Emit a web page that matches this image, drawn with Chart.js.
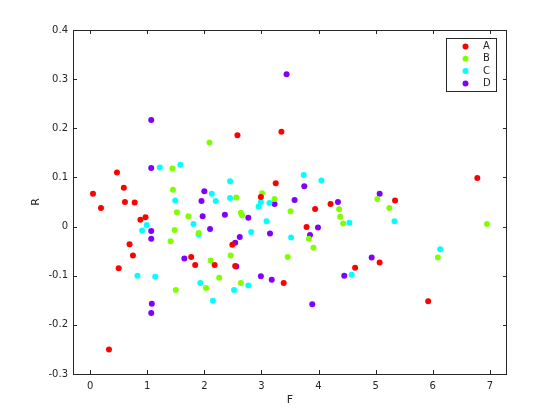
<!DOCTYPE html>
<html>
<head>
<meta charset="utf-8">
<script src="https://cdn.jsdelivr.net/npm/chart.js@4"></script>
<style>
  html, body { margin: 0; padding: 0; background: #fff; }
</style>
</head>
<body>
<canvas id="chart" width="560" height="420"></canvas>
<script>
// scatter of R against F, four groups

const groupNames = ['A', 'B', 'C', 'D'];
const groupColors = ['#ff0000', '#80ff00', '#00ffff', '#8000ff'];

const aF = [2.58, 3.35, 0.47, 0.05, 0.59, 0.19, 0.61, 0.78, 0.97, 0.88, 0.69, 0.75, 1.77, 1.84, 2.18,
            0.50, 3.25, 2.99, 3.94, 4.21, 3.79, 2.49, 2.54, 4.64, 6.78, 5.34, 5.07, 3.39, 0.33, 5.92];
const aR = [0.186, 0.193, 0.110, 0.067, 0.079, 0.038, 0.050, 0.049, 0.019, 0.014, -0.036, -0.059, -0.062, -0.078, -0.078,
            -0.085, 0.088, 0.060, 0.036, 0.046, -0.001, -0.037, -0.080, -0.084, 0.099, 0.053, -0.073, -0.115, -0.250, -0.152];

const bF = [2.09, 1.44, 1.45, 1.52, 1.72, 1.48, 1.90, 1.41, 2.11, 2.56, 3.01, 3.23, 4.36, 3.51, 4.38,
            4.43, 2.64, 2.66, 3.83, 3.91, 2.46, 3.46, 5.03, 5.24, 6.95, 6.09, 2.26, 1.50, 2.03, 2.64];
const bR = [0.171, 0.118, 0.075, 0.029, 0.021, -0.007, -0.013, -0.030, -0.069, 0.059, 0.068, 0.056, 0.035, 0.031, 0.020,
            0.006, 0.028, 0.023, -0.025, -0.043, -0.059, -0.062, 0.056, 0.038, 0.005, -0.063, -0.104, -0.129, -0.125, -0.115];

const cF = [1.22, 1.58, 2.13, 1.49, 2.20, 0.99, 1.81, 0.91, 1.90, 3.74, 4.05, 2.45, 2.45, 2.99, 2.95,
            3.14, 4.54, 3.09, 2.82, 3.52, 5.33, 6.13, 0.83, 1.14, 1.93, 2.15, 2.77, 2.52, 4.58];
const cR = [0.120, 0.126, 0.067, 0.053, 0.052, 0.003, 0.005, -0.008, -0.016, 0.105, 0.094, 0.092, 0.058, 0.050, 0.041,
            0.048, 0.008, 0.011, -0.011, -0.022, 0.011, -0.046, -0.100, -0.102, -0.115, -0.151, -0.120, -0.129, -0.098];

const dF = [1.07, 3.44, 1.07, 2.00, 1.95, 1.97, 1.07, 2.10, 1.07, 1.65, 3.75, 3.23, 3.58, 4.34, 2.36,
            2.77, 3.99, 3.15, 3.85, 2.62, 2.54, 2.56, 5.07, 4.93, 1.08, 1.07, 2.99, 3.18, 3.89, 4.45];
const dR = [0.217, 0.310, 0.119, 0.072, 0.052, 0.021, -0.009, -0.005, -0.025, -0.065, 0.082, 0.046, 0.054, 0.050, 0.024,
            0.018, -0.002, -0.014, -0.017, -0.021, -0.033, -0.081, 0.067, -0.063, -0.157, -0.176, -0.101, -0.108, -0.158, -0.100];

const xTicks = [0, 1, 2, 3, 4, 5, 6, 7];
const yTicks = [-0.3, -0.2, -0.1, 0, 0.1, 0.2, 0.3, 0.4];

const axisColor = '#262626';
const fontFamily = '"DejaVu Sans", sans-serif';
const dotRadius = 3;

function pairs(xs, ys) {
  return xs.map((x, i) => ({ x: x, y: ys[i] }));
}

const allF = [aF, bF, cF, dF];
const allR = [aR, bR, cR, dR];

const datasets = groupNames.map((name, i) => ({
  label: name,
  data: pairs(allF[i], allR[i]),
  backgroundColor: groupColors[i],
  borderWidth: 0,
  pointRadius: dotRadius,
  pointHoverRadius: dotRadius
}));

// box round the axes, inward ticks on all four sides, and the legend
const matlabAxes = {
  id: 'matlabAxes',
  afterDraw(chart) {
    const { ctx, chartArea: a, scales } = chart;
    ctx.save();
    ctx.strokeStyle = axisColor;
    ctx.lineWidth = 1;
    ctx.strokeRect(Math.round(a.left) + 0.5, Math.round(a.top) + 0.5,
                   Math.round(a.right - a.left) - 1, Math.round(a.bottom - a.top));
    const len = 4;
    ctx.beginPath();
    xTicks.forEach(v => {
      const px = Math.round(scales.x.getPixelForValue(v)) + 0.5;
      ctx.moveTo(px, a.bottom); ctx.lineTo(px, a.bottom - len);
      ctx.moveTo(px, a.top); ctx.lineTo(px, a.top + len);
    });
    yTicks.forEach(v => {
      const py = Math.round(scales.y.getPixelForValue(v)) + 0.5;
      ctx.moveTo(a.left, py); ctx.lineTo(a.left + len, py);
      ctx.moveTo(a.right, py); ctx.lineTo(a.right - len, py);
    });
    ctx.stroke();

    // legend
    const lx = 446.5, ly = 38.5, lw = 50, lh = 53;
    ctx.fillStyle = '#fff';
    ctx.fillRect(lx, ly, lw, lh);
    ctx.strokeRect(lx, ly, lw, lh);
    ctx.font = '10px ' + fontFamily;
    ctx.textBaseline = 'middle';
    ctx.textAlign = 'left';
    chart.data.datasets.forEach((ds, i) => {
      const y = 46.5 + i * 12.3;
      ctx.fillStyle = ds.backgroundColor;
      ctx.beginPath();
      ctx.arc(465.5, y, dotRadius, 0, Math.PI * 2);
      ctx.fill();
      ctx.fillStyle = axisColor;
      ctx.fillText(ds.label, 483, y);
    });
    ctx.restore();
  }
};

new Chart(document.getElementById('chart'), {
  type: 'scatter',
  data: { datasets: datasets },
  options: {
    responsive: false,
    animation: false,
    layout: { padding: { left: 0, top: 30, right: 53, bottom: 0 } },
    plugins: {
      legend: { display: false },
      tooltip: { enabled: false }
    },
    scales: {
      x: {
        type: 'linear',
        min: -0.3,
        max: 7.3,
        afterBuildTicks: s => { s.ticks = xTicks.map(v => ({ value: v })); },
        afterFit: s => { s.height = 46; },
        grid: { display: false, drawTicks: false },
        border: { display: false },
        ticks: {
          padding: 6,
          color: axisColor,
          font: { family: fontFamily, size: 10 },
          callback: v => String(v)
        },
        title: {
          display: true,
          text: 'F',
          color: axisColor,
          font: { family: fontFamily, size: 11 },
          padding: { top: 0, bottom: 13 }
        }
      },
      y: {
        type: 'linear',
        min: -0.3,
        max: 0.4,
        afterBuildTicks: s => { s.ticks = yTicks.map(v => ({ value: v })); },
        afterFit: s => { s.width = 73; },
        grid: { display: false, drawTicks: false },
        border: { display: false },
        ticks: {
          padding: 5,
          color: axisColor,
          font: { family: fontFamily, size: 10 },
          callback: v => (Math.abs(v) < 1e-9 ? '0' : v.toFixed(1))
        },
        title: {
          display: true,
          text: 'R',
          color: axisColor,
          font: { family: fontFamily, size: 11 },
          padding: { top: 30, bottom: 0 }
        }
      }
    }
  },
  plugins: [matlabAxes]
});
</script>
</body>
</html>
